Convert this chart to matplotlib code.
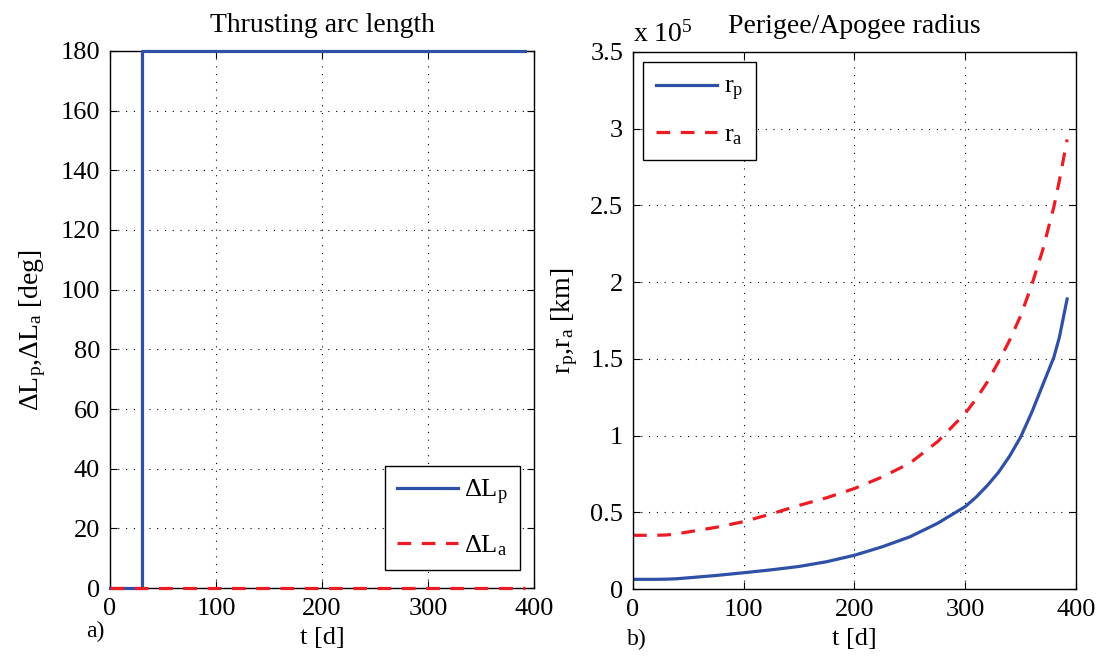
import numpy as np
import matplotlib
matplotlib.use('Agg')
import matplotlib.pyplot as plt
from matplotlib.ticker import FuncFormatter

plt.rcParams['font.family'] = ['Liberation Serif', 'DejaVu Serif']
plt.rcParams['mathtext.fontset'] = 'custom'
plt.rcParams['mathtext.rm'] = 'Liberation Serif'
plt.rcParams['mathtext.it'] = 'Liberation Serif:italic'
plt.rcParams['font.size'] = 19

# thrusting arc lengths [deg]
t_arc = [0, 30, 30, 392]
dL_p = [0, 0, 180, 180]
t_arc_a = [0, 392]
dL_a = [0, 0]

# perigee / apogee radius [km]
t_r = [0, 10, 20, 30, 40, 50, 75, 100, 125, 150, 175, 200, 225, 250, 275,
       300, 310, 320, 330, 340, 350, 360, 370, 380, 385, 392]
r_p = [6300, 6300, 6300, 6400, 6700, 7300, 8800, 10600, 12500, 14700, 17800,
       22000, 27500, 34000, 42800, 53700, 60000, 67500, 76000, 86500, 99000,
       115000, 133000, 151000, 164000, 189000]
r_a = [35000, 35000, 35000, 35200, 36000, 37200, 40200, 43900, 49000, 54500,
       59500, 65500, 73000, 82000, 96000, 114500, 124000, 135000, 148000,
       162000, 178000, 198000, 221000, 249000, 266000, 293000]

blue = '#2E50A6'
red = '#ED1C24'
dash = (0, (4.3, 3.3))

fig = plt.figure(figsize=(11.03, 6.57), dpi=100)
ax1 = fig.add_axes([0.0997, 0.105, 0.3844, 0.8174])
ax2 = fig.add_axes([0.5739, 0.1035, 0.4016, 0.8174])

for ax in (ax1, ax2):
    ax.grid(True, color='k', linestyle=(0, (1, 6)), linewidth=0.8)
    ax.tick_params(direction='in', top=True, right=True, length=5, width=0.8, pad=7)
    for s in ax.spines.values():
        s.set_linewidth(1.0)
    ax.set_xlim(0, 400)
    ax.set_xticks([0, 100, 200, 300, 400])

# a) thrusting arc length
ax1.plot(t_arc, dL_p, color=blue, lw=2.3, label='ΔL$_\\mathrm{p}$', clip_on=False, zorder=3)
ax1.plot(t_arc_a, dL_a, color=red, lw=2.3, linestyle=dash, label='ΔL$_\\mathrm{a}$', clip_on=False, zorder=4)
ax1.set_ylim(0, 180)
ax1.set_yticks(np.arange(0, 181, 20))
ax1.set_title('Thrusting arc length', fontsize=20, pad=14)
ax1.set_xlabel('t [d]', labelpad=5)
ax1.set_ylabel('ΔL$_\\mathrm{p}$,ΔL$_\\mathrm{a}$ [deg]', fontsize=20)
ax1.yaxis.set_label_coords(-0.145, 0.48)
leg1 = ax1.legend(loc='lower right', bbox_to_anchor=(0.967, 0.034), borderaxespad=0,
                  fancybox=False, edgecolor='k', handlelength=2.3, handletextpad=0.25,
                  labelspacing=1.0, borderpad=0.45, framealpha=1)
leg1.get_frame().set_linewidth(1.0)

# b) perigee/apogee radius
ax2.plot(t_r, r_p, color=blue, lw=2.3, label='r$_\\mathrm{p}$')
ax2.plot(t_r, r_a, color=red, lw=2.3, linestyle=dash, label='r$_\\mathrm{a}$')
ax2.set_ylim(0, 3.5e5)
ax2.set_yticks(np.arange(0, 3.51e5, 0.5e5))
ax2.yaxis.set_major_formatter(FuncFormatter(lambda v, p: '%g' % (v / 1e5)))
ax2.set_title('Perigee/Apogee radius', fontsize=20, pad=14)
ax2.set_xlabel('t [d]', labelpad=5)
ax2.set_ylabel('r$_\\mathrm{p}$,r$_\\mathrm{a}$ [km]', fontsize=20)
ax2.yaxis.set_label_coords(-0.12, 0.5)
leg2 = ax2.legend(loc='upper left', bbox_to_anchor=(0.023, 0.981), borderaxespad=0,
                  fancybox=False, edgecolor='k', handlelength=2.3, handletextpad=0.25,
                  labelspacing=0.75, borderpad=0.5, framealpha=1)
leg2.get_frame().set_linewidth(1.0)

fig.text(0.574, 0.936, 'x 10$^{5}$', fontsize=20, ha='left', va='baseline')
fig.text(0.078, 0.030, 'a)', fontsize=17)
fig.text(0.568, 0.018, 'b)', fontsize=17)

fig.savefig('out.png', dpi=100)
